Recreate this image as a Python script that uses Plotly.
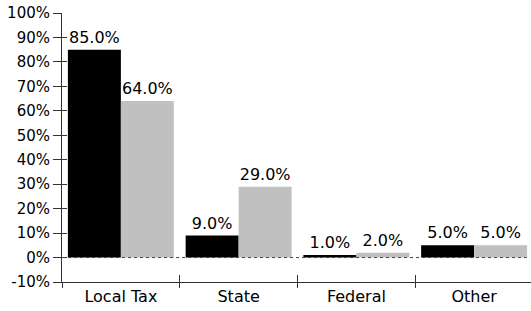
import plotly.graph_objects as go

categories = ["Local Tax", "State", "Federal", "Other"]
series_a = [85.0, 9.0, 1.0, 5.0]
series_b = [64.0, 29.0, 2.0, 5.0]
y_tick_vals = [-10, 0, 10, 20, 30, 40, 50, 60, 70, 80, 90, 100]
y_tick_text = ["-10%", "0%", "10%", "20%", "30%", "40%", "50%", "60%", "70%", "80%", "90%", "100%"]

FONT = "DejaVu Sans"
AXIS_COLOR = "#333333"

fig = go.Figure()
fig.add_trace(go.Bar(
    x=categories, y=series_a, marker=dict(color="#000000", line=dict(width=0)),
    text=[f"{v:.1f}%" for v in series_a], textposition="outside",
    textfont=dict(family=FONT, size=16, color="#000000"), cliponaxis=False,
    showlegend=False, hoverinfo="skip"))
fig.add_trace(go.Bar(
    x=categories, y=series_b, marker=dict(color="#c0c0c0", line=dict(width=0)),
    text=[f"{v:.1f}%" for v in series_b], textposition="outside",
    textfont=dict(family=FONT, size=16, color="#000000"), cliponaxis=False,
    showlegend=False, hoverinfo="skip"))
# invisible trace to draw the inner halves of the crossing ticks
fig.add_trace(go.Scatter(x=categories, y=[None] * len(categories), xaxis="x2", yaxis="y2",
                         mode="markers", showlegend=False, hoverinfo="skip"))

xr = [-0.5, 3.483]
yr = [-10, 100]
fig.update_layout(
    width=531, height=311,
    margin=dict(l=62, r=0, t=13, b=29),
    paper_bgcolor="white", plot_bgcolor="white",
    barmode="group", bargap=0.1, bargroupgap=0,
    uniformtext=dict(mode=False),
    xaxis=dict(type="category", categoryorder="array", categoryarray=categories,
               range=xr, tickson="boundaries", ticks="outside", ticklen=5,
               tickcolor=AXIS_COLOR, showline=True, linecolor=AXIS_COLOR, linewidth=1,
               showgrid=False, zeroline=False, automargin=False,
               tickfont=dict(family=FONT, size=16, color="#000000")),
    yaxis=dict(range=yr, tickvals=y_tick_vals, ticktext=y_tick_text, ticks="outside",
               ticklen=8, tickcolor=AXIS_COLOR, showline=True, linecolor=AXIS_COLOR,
               linewidth=1, showgrid=False, zeroline=False, automargin=False,
               tickfont=dict(family=FONT, size=15, color="#000000")),
    xaxis2=dict(type="category", categoryorder="array", categoryarray=categories,
                range=xr, overlaying="x", anchor="y2", side="bottom", tickson="boundaries",
                ticks="inside", ticklen=7, tickcolor=AXIS_COLOR, showticklabels=False,
                showline=False, showgrid=False, zeroline=False, automargin=False),
    yaxis2=dict(range=yr, tickvals=y_tick_vals, overlaying="y", anchor="x2", side="left",
                ticks="inside", ticklen=5, tickcolor=AXIS_COLOR, showticklabels=False,
                showline=False, showgrid=False, zeroline=False, automargin=False),
    shapes=[dict(type="line", xref="paper", yref="y", x0=0, x1=0.991, y0=0, y1=0,
                 line=dict(color="#444444", width=1, dash="dot"), layer="above")],
)

fig.write_html("out.html", config={"displayModeBar": False},
               post_script="document.body.style.margin='0';document.body.style.overflow='hidden';")
